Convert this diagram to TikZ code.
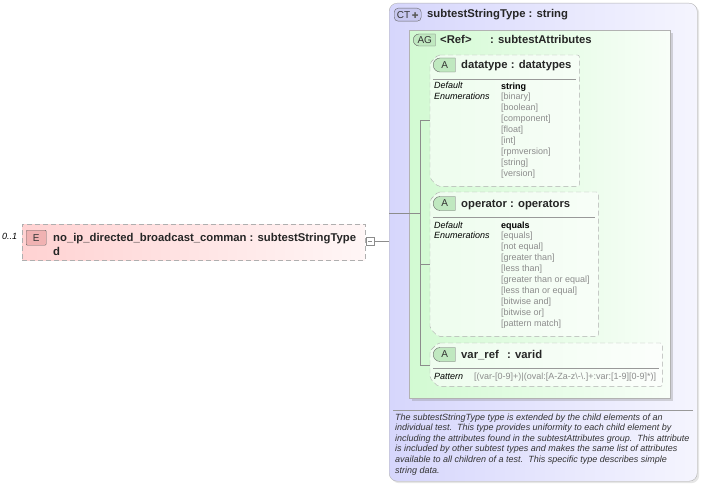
\documentclass[tikz,border=0pt]{standalone}
\usepackage{fontspec}
\setmainfont{Liberation Sans}
\newfontfamily\symfont{DejaVu Sans}
\usetikzlibrary{positioning,shapes.misc,shadows}
\definecolor{elempink}{RGB}{255,210,210}
\definecolor{ebadgepink}{RGB}{240,178,178}
\definecolor{ctblue}{RGB}{214,214,252}
\definecolor{ctbadgeblue}{RGB}{200,200,240}
\definecolor{aggreen}{RGB}{210,250,210}
\definecolor{abadgegreen}{RGB}{192,232,192}
\definecolor{enumgray}{RGB}{140,140,140}
\definecolor{framegray}{RGB}{175,175,175}
% dashed frame with cut corners on the left
\newcommand\attrframe[1]{%
\draw[framegray,dash pattern=on 5pt off 3pt,fill=white,fill opacity=.6,rounded corners=2pt]
([xshift=8pt]#1.north west) -- (#1.north east) -- (#1.south east)
-- ([xshift=8pt]#1.south west) -- ([yshift=8pt]#1.south west)
-- ([yshift=-8pt]#1.north west) -- cycle;}
\begin{document}
\begin{tikzpicture}[x=1pt,y=-1pt,%
txt/.style={inner sep=0pt, anchor=base west},%
title/.style={txt, align=left, font=\bfseries\fontsize{11.3}{14}\selectfont, text=black!85},%
small/.style={txt, align=left, font=\fontsize{9}{10.9}\selectfont},%
smallit/.style={txt, align=left, font=\itshape\fontsize{9}{10.9}\selectfont},%
badge/.style={draw=black!60, inner sep=0pt, anchor=north west, minimum height=13pt, text=black!80, font=\fontsize{10}{10}\selectfont},%
abadge/.style={badge, anchor=west, rounded rectangle, rounded rectangle right arc=none, fill=abadgegreen, minimum width=22pt},%
attr/.style={anchor=north west, inner sep=0pt},%
sepline/.style={draw=black!40},%
conn/.style={draw=black!45}]
\useasboundingbox (0,0) rectangle (701,484);
% element
\node[attr, draw=framegray, dash pattern=on 5pt off 3pt, left color=elempink, right color=elempink!20!white,%
  minimum width=343pt, minimum height=36pt] (elem) at (22,224) {};
\node[badge, fill=ebadgepink, rounded corners=1pt, minimum width=20pt, minimum height=15pt] (ebadge) at (26,230) {E};
% multi-line texts sit on the baseline of their last line
\node[title] (ename) at (53,255) {no\_ip\_directed\_broadcast\_comman : subtestStringType\\d};
\node[smallit] (occ) at (2,239) {0..1};
\node[draw=black!45, fill=white, minimum size=8pt, inner sep=0pt] (exp) at (370,241) {};
\draw[black!45] ([xshift=2pt]exp.west) -- ([xshift=-2pt]exp.east);
% complex type
\node[attr, draw=black!30, rounded corners=8pt, left color=ctblue, right color=ctblue!25!white,%
  drop shadow={shadow xshift=2pt, shadow yshift=-2pt, opacity=.2},%
  minimum width=308pt, minimum height=478pt] (ct) at (389,3) {};
\node[badge, fill=ctbadgeblue, rounded corners=4pt, minimum width=27pt] (ctbadge) at (394,8)%
  {CT\,{\symfont\fontsize{8}{8}\selectfont\textcolor{black!65}{✚}}};
\node[title] (cttitle) at (427,18) {subtestStringType : string};
\draw[sepline] (393,410) -- (693,410);
\node[txt, align=left, font=\itshape\fontsize{9}{10.6}\selectfont, text=black!80] (ctdoc) at (395,473)%
  {The subtestStringType type is extended by the child elements of an\\
   individual test.\ \ This type provides uniformity to each child element by\\
   including the attributes found in the subtestAttributes group.\ \ This attribute\\
   is included by other subtest types and makes the same list of attributes\\
   available to all children of a test.\ \ This specific type describes simple\\
   string data.};
% attribute group
\node[attr, draw=black!30, left color=aggreen, right color=aggreen!15!white,%
  drop shadow={shadow xshift=2.5pt, shadow yshift=-2.5pt, opacity=.3},%
  minimum width=261pt, minimum height=368pt] (ag) at (409,30) {};
\node[abadge, minimum height=12pt] (agbadge) at (413,40) {AG};
\node[title] (agref) at (440,44) {<Ref>};
\node[title] (agname) at (490,44) {: subtestAttributes};
% datatype
\node[attr, minimum width=149pt, minimum height=131pt] (dt) at (430,55) {};
\attrframe{dt}
\node[abadge, minimum height=14pt] (dtbadge) at (433,65) {A};
\node[title] (dtname) at (461,69) {datatype : datatypes};
\draw[sepline] (433,79) -- (576,79);
\node[smallit] (dtlabel) at (434,99.9) {Default\\Enumerations};
\node[small, text=enumgray] (dtvals) at (501,176.2) {\textcolor{black}{\bfseries string}\\{}[binary]\\{}[boolean]\\%
  {}[component]\\{}[float]\\{}[int]\\{}[rpmversion]\\{}[string]\\{}[version]};
% operator
\node[attr, minimum width=168pt, minimum height=144pt] (op) at (430,192) {};
\attrframe{op}
\node[abadge, minimum height=14pt] (opbadge) at (433,203.5) {A};
\node[title] (opname) at (461,207) {operator : operators};
\draw[sepline] (433,217) -- (595,217);
\node[smallit] (oplabel) at (434,238.9) {Default\\Enumerations};
\node[small, text=enumgray] (opvals) at (501,326.1) {\textcolor{black}{\bfseries equals}\\{}[equals]\\{}[not equal]\\%
  {}[greater than]\\{}[less than]\\{}[greater than or equal]\\{}[less than or equal]\\{}[bitwise and]\\%
  {}[bitwise or]\\{}[pattern match]};
% var_ref
\node[attr, minimum width=232pt, minimum height=43pt] (vr) at (430,343) {};
\attrframe{vr}
\node[abadge, minimum height=14pt] (vrbadge) at (433,354.5) {A};
\node[title] (vrname) at (461,358) {var\_ref};
\node[title] (vrtype) at (507,358) {: varid};
\draw[sepline] (433,368) -- (659,368);
\node[smallit] (vrlabel) at (434,379) {Pattern};
\node[small, text=enumgray] (vrpat) at (474,379) {[(var-[0-9]+)|(oval:[A-Za-z\textbackslash-\textbackslash.]+:var:[1-9][0-9]*)]};
% connectors
\coordinate (trunk) at (420,213);
\draw[conn] (exp.east) -- (exp.east -| ct.west);
\draw[conn] (ct.west |- trunk) -- (trunk);
\draw[conn] (trunk |- dt.west) -- (trunk |- vr.west);
\foreach \a in {dt,op,vr} \draw[conn] (trunk |- \a.west) -- (\a.west);
\end{tikzpicture}
\end{document}
